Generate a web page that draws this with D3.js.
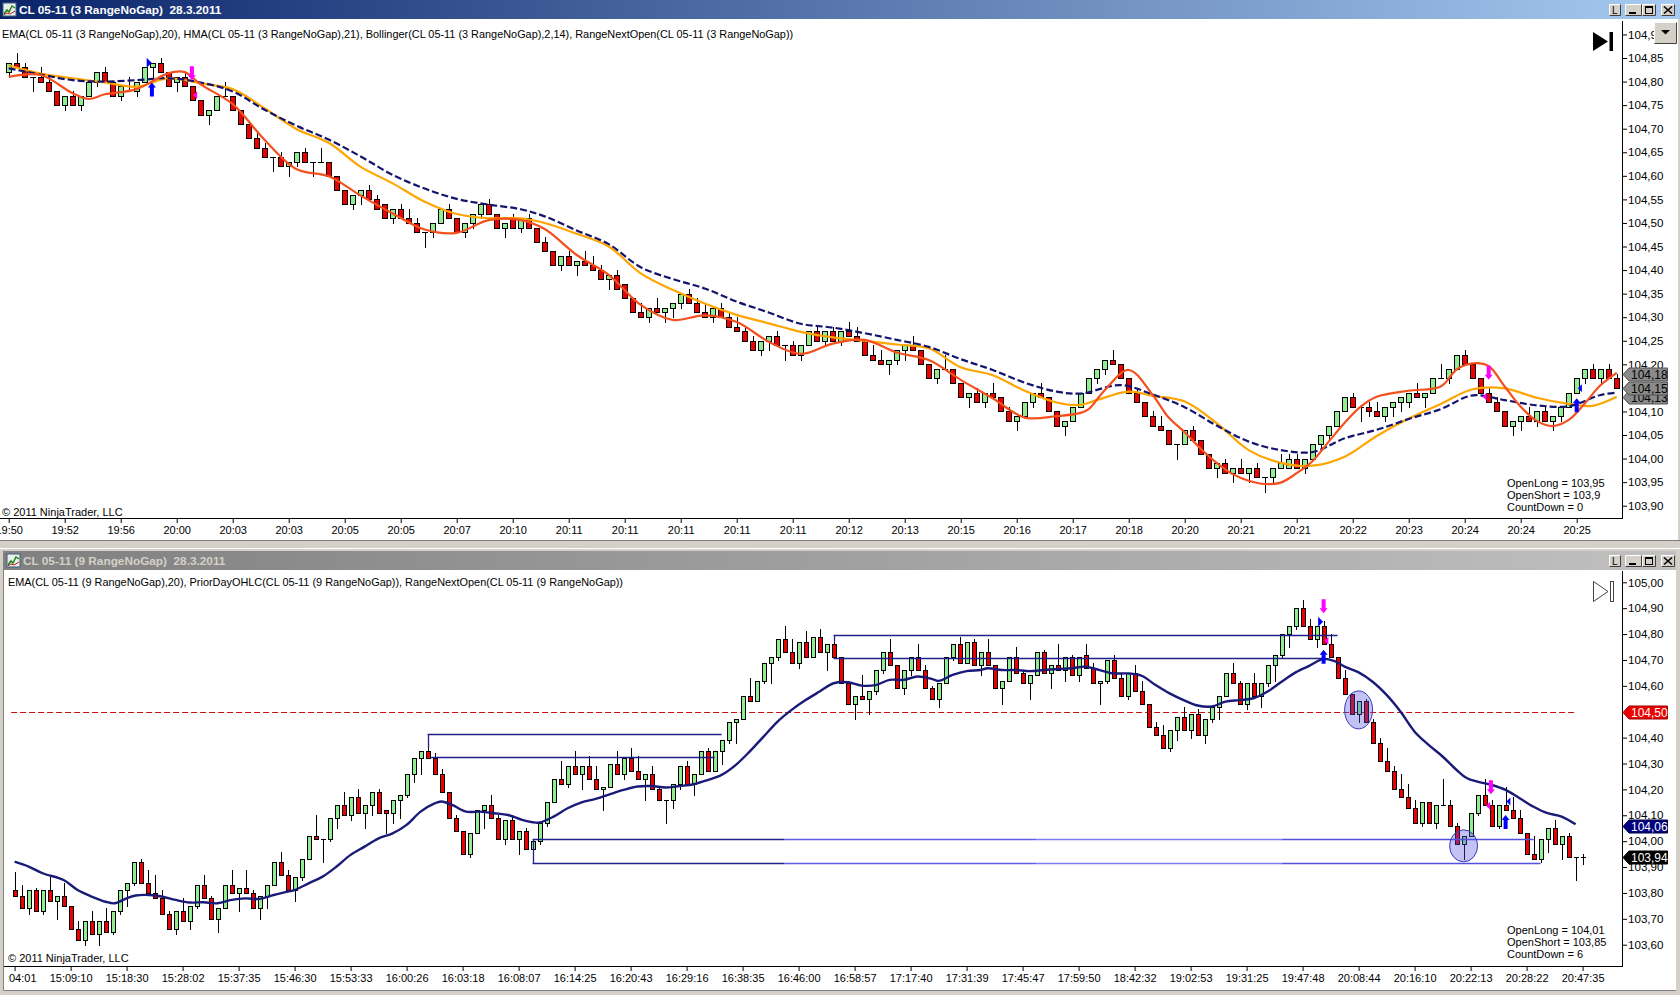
<!DOCTYPE html>
<html><head><meta charset="utf-8">
<script src="https://cdn.jsdelivr.net/npm/d3@7/dist/d3.min.js"></script>
<style>
html,body{margin:0;padding:0;background:#d4d0c8;overflow:hidden;}
svg{display:block;}
</style></head><body>
<svg id="chart" width="1680" height="995"></svg>
<script>
// ---------------- DATA: upper chart (3 RangeNoGap) ----------------
const topOpen = [104.82,104.84,104.83,104.81,104.81,104.80,104.78,104.75,104.77,104.75,
104.77,104.80,104.82,104.80,104.77,104.79,104.78,104.80,104.83,104.84,
104.82,104.80,104.81,104.79,104.76,104.73,104.74,104.77,104.77,104.74,
104.71,104.68,104.66,104.64,104.64,104.62,104.63,104.65,104.63,104.63,
104.63,104.60,104.57,104.54,104.56,104.57,104.55,104.54,104.51,104.53,
104.51,104.50,104.48,104.48,104.50,104.53,104.51,104.48,104.50,104.52,
104.54,104.52,104.49,104.51,104.49,104.51,104.49,104.46,104.44,104.41,
104.43,104.41,104.42,104.41,104.40,104.38,104.39,104.37,104.34,104.31,
104.30,104.32,104.31,104.32,104.33,104.35,104.33,104.31,104.30,104.32,
104.30,104.28,104.27,104.25,104.23,104.25,104.26,104.24,104.24,104.22,
104.24,104.27,104.25,104.27,104.25,104.27,104.26,104.25,104.22,104.21,
104.20,104.21,104.23,104.24,104.23,104.20,104.17,104.19,104.19,104.16,
104.13,104.14,104.12,104.14,104.13,104.10,104.08,104.09,104.12,104.14,
104.13,104.10,104.07,104.08,104.11,104.14,104.17,104.19,104.21,104.20,
104.17,104.14,104.12,104.09,104.07,104.06,104.03,104.03,104.06,104.04,
104.01,103.98,103.99,103.97,103.98,103.97,103.98,103.96,103.96,103.98,
103.98,104.00,103.98,104.00,104.03,104.05,104.07,104.10,104.13,104.11,
104.11,104.10,104.09,104.11,104.12,104.12,104.14,104.13,104.14,104.17,
104.17,104.19,104.22,104.20,104.17,104.14,104.12,104.10,104.07,104.08,
104.09,104.08,104.10,104.08,104.09,104.11,104.14,104.17,104.19,104.17,104.19,104.17];
const topClose = [104.84,104.83,104.81,104.81,104.80,104.78,104.75,104.77,104.75,104.77,
104.80,104.82,104.80,104.77,104.79,104.79,104.80,104.83,104.84,104.82,
104.79,104.81,104.79,104.76,104.73,104.74,104.77,104.77,104.74,104.71,
104.68,104.66,104.64,104.64,104.62,104.63,104.65,104.63,104.63,104.63,
104.60,104.57,104.54,104.56,104.57,104.55,104.53,104.51,104.53,104.51,
104.50,104.48,104.48,104.50,104.53,104.51,104.48,104.50,104.52,104.54,
104.52,104.49,104.50,104.49,104.51,104.49,104.46,104.44,104.41,104.43,
104.41,104.42,104.41,104.40,104.38,104.39,104.36,104.34,104.31,104.30,
104.32,104.31,104.32,104.33,104.35,104.33,104.31,104.30,104.32,104.30,
104.28,104.27,104.25,104.23,104.25,104.26,104.24,104.24,104.22,104.24,
104.27,104.25,104.27,104.25,104.27,104.26,104.25,104.22,104.21,104.20,
104.21,104.23,104.24,104.23,104.20,104.17,104.19,104.19,104.16,104.13,
104.14,104.12,104.14,104.13,104.10,104.08,104.09,104.12,104.14,104.13,
104.10,104.07,104.08,104.11,104.14,104.17,104.19,104.21,104.20,104.17,
104.14,104.12,104.09,104.07,104.06,104.03,104.03,104.06,104.04,104.01,
103.98,103.99,103.97,103.98,103.97,103.98,103.96,103.96,103.98,103.99,
104.00,103.98,104.00,104.03,104.05,104.07,104.10,104.13,104.11,104.11,
104.10,104.09,104.11,104.12,104.13,104.14,104.13,104.14,104.17,104.17,
104.19,104.22,104.20,104.17,104.14,104.12,104.10,104.07,104.08,104.09,
104.08,104.10,104.08,104.09,104.11,104.14,104.17,104.19,104.17,104.19,104.17,104.15];
const topHigh = [104.84,104.86,104.84,104.81,104.83,104.81,104.78,104.77,104.78,104.77,
104.80,104.82,104.83,104.80,104.79,104.81,104.80,104.83,104.84,104.85,
104.82,104.81,104.82,104.79,104.76,104.74,104.77,104.80,104.77,104.74,
104.71,104.69,104.67,104.64,104.65,104.63,104.65,104.66,104.63,104.66,
104.63,104.60,104.57,104.56,104.57,104.58,104.56,104.54,104.53,104.54,
104.53,104.51,104.48,104.50,104.53,104.54,104.51,104.50,104.52,104.54,
104.55,104.52,104.50,104.52,104.51,104.52,104.49,104.47,104.44,104.43,
104.44,104.42,104.44,104.43,104.41,104.39,104.40,104.37,104.34,104.33,
104.32,104.34,104.32,104.33,104.35,104.36,104.34,104.33,104.32,104.33,
104.31,104.30,104.28,104.26,104.25,104.26,104.27,104.24,104.25,104.24,
104.27,104.28,104.27,104.28,104.27,104.29,104.28,104.25,104.24,104.23,
104.21,104.23,104.24,104.26,104.23,104.20,104.19,104.22,104.19,104.16,
104.14,104.15,104.14,104.16,104.13,104.11,104.09,104.12,104.14,104.16,
104.13,104.10,104.08,104.11,104.14,104.17,104.19,104.21,104.23,104.20,
104.17,104.15,104.12,104.10,104.09,104.06,104.03,104.06,104.07,104.04,
104.01,103.99,104.00,103.98,104.00,103.98,103.99,103.96,103.98,104.01,
104.01,104.01,104.00,104.03,104.05,104.07,104.10,104.13,104.14,104.11,
104.12,104.12,104.11,104.12,104.13,104.14,104.16,104.14,104.17,104.20,
104.19,104.22,104.23,104.20,104.17,104.15,104.13,104.10,104.08,104.09,
104.11,104.10,104.11,104.09,104.11,104.14,104.17,104.19,104.20,104.19,104.20,104.18];
const topLow = [104.81,104.83,104.81,104.78,104.80,104.78,104.75,104.74,104.75,104.74,
104.77,104.79,104.80,104.77,104.76,104.78,104.77,104.80,104.81,104.82,
104.79,104.78,104.79,104.76,104.73,104.71,104.74,104.77,104.74,104.71,
104.68,104.66,104.64,104.61,104.62,104.60,104.62,104.63,104.60,104.63,
104.60,104.57,104.54,104.53,104.54,104.55,104.53,104.51,104.50,104.51,
104.50,104.48,104.45,104.47,104.50,104.51,104.48,104.47,104.49,104.51,
104.52,104.49,104.47,104.49,104.48,104.49,104.46,104.44,104.41,104.40,
104.41,104.39,104.41,104.40,104.38,104.36,104.36,104.34,104.31,104.30,
104.29,104.31,104.29,104.30,104.32,104.33,104.31,104.30,104.29,104.30,
104.28,104.27,104.25,104.23,104.22,104.23,104.24,104.21,104.22,104.21,
104.24,104.25,104.24,104.25,104.24,104.26,104.25,104.22,104.21,104.20,
104.18,104.20,104.21,104.23,104.20,104.17,104.16,104.19,104.16,104.13,
104.11,104.12,104.11,104.13,104.10,104.08,104.06,104.09,104.11,104.13,
104.10,104.07,104.05,104.08,104.11,104.14,104.16,104.18,104.20,104.17,
104.14,104.12,104.09,104.07,104.06,104.03,104.00,104.03,104.04,104.01,
103.98,103.96,103.97,103.95,103.97,103.95,103.96,103.93,103.95,103.98,
103.98,103.98,103.97,104.00,104.02,104.04,104.07,104.10,104.11,104.08,
104.09,104.09,104.08,104.09,104.10,104.11,104.13,104.11,104.14,104.17,
104.16,104.19,104.20,104.17,104.14,104.12,104.10,104.07,104.05,104.06,
104.08,104.07,104.08,104.06,104.08,104.11,104.14,104.16,104.17,104.16,104.17,104.15];

// indicator readings [bar index, value]
const topHma = [[1,104.810],[5,104.814],[9,104.775],[11,104.763],[13,104.773],[17,104.784],[21,104.818],[23,104.820],[25,104.794],[29,104.752],[33,104.676],[37,104.614],[41,104.599],[45,104.558],[49,104.520],[53,104.486],[57,104.479],[61,104.506],[65,104.506],[68,104.487],[72,104.432],[76,104.390],[80,104.326],[84,104.294],[88,104.304],[92,104.290],[96,104.248],[100,104.222],[104,104.244],[108,104.252],[112,104.225],[116,104.209],[120,104.167],[124,104.128],[128,104.087],[132,104.090],[135,104.097],[136,104.105],[138,104.145],[141,104.188],[144,104.135],[146,104.087],[148,104.056],[150,104.021],[152,103.991],[154,103.967],[156,103.953],[158,103.946],[160,103.949],[162,103.969],[164,103.995],[166,104.036],[168,104.076],[170,104.110],[172,104.131],[176,104.144],[180,104.153],[182,104.189],[184,104.202],[186,104.196],[188,104.153],[190,104.110],[192,104.080],[194,104.069],[196,104.082],[198,104.117],[200,104.156],[202,104.182]];
const topEma = [[1,104.834],[5,104.817],[9,104.807],[13,104.798],[17,104.789],[21,104.807],[25,104.796],[29,104.784],[33,104.743],[37,104.699],[41,104.670],[45,104.619],[49,104.584],[53,104.545],[57,104.519],[61,104.510],[65,104.510],[68,104.500],[72,104.477],[76,104.450],[80,104.393],[84,104.358],[88,104.329],[92,104.305],[96,104.287],[100,104.269],[104,104.257],[108,104.250],[112,104.242],[116,104.234],[120,104.194],[124,104.177],[128,104.144],[132,104.119],[135,104.114],[137,104.124],[141,104.142],[144,104.133],[148,104.121],[152,104.075],[156,104.018],[160,103.991],[164,103.985],[168,104.004],[172,104.048],[176,104.085],[180,104.116],[184,104.147],[188,104.149],[192,104.129],[196,104.116],[199,104.112],[202,104.131]];
const topBollinger = [[1,104.828],[5,104.815],[9,104.803],[13,104.800],[17,104.803],[21,104.807],[25,104.798],[29,104.779],[33,104.740],[37,104.706],[41,104.677],[45,104.641],[49,104.602],[53,104.573],[57,104.551],[61,104.539],[65,104.529],[68,104.514],[72,104.484],[76,104.455],[80,104.406],[84,104.381],[88,104.361],[92,104.333],[96,104.310],[100,104.286],[104,104.278],[108,104.266],[112,104.252],[116,104.237],[120,104.211],[124,104.188],[128,104.161],[132,104.142],[135,104.138],[140,104.156],[144,104.136],[148,104.109],[152,104.070],[156,104.036],[160,104.018],[164,104.014],[168,104.043],[172,104.061],[176,104.084],[180,104.105],[184,104.134],[188,104.124],[192,104.113],[196,104.111],[200,104.135],[202,104.140]];

const topXLabels = ["19:50","19:52","19:56","20:00","20:03","20:03","20:05","20:05","20:07","20:10","20:11","20:11","20:11","20:11","20:11","20:12","20:13","20:15","20:16","20:17","20:18","20:20","20:21","20:21","20:22","20:23","20:24","20:24","20:25"];
const topYTicks = [104.90,104.85,104.80,104.75,104.70,104.65,104.60,104.55,104.50,104.45,104.40,104.35,104.30,104.25,104.20,104.10,104.05,104.00,103.95,103.90];
const topSignals = [
  {i:18.5, p:104.840, kind:"longFlag"},
  {i:18.9, p:104.798, kind:"longArrow"},
  {i:23.9, p:104.803, kind:"shortArrow"},
  {i:24.3, p:104.771, kind:"shortMark"},
  {i:186, p:104.167, kind:"shortArrow"},
  {i:185.5, p:104.131, kind:"shortMark"},
  {i:197, p:104.128, kind:"longArrow"},
  {i:197.4, p:104.149, kind:"longMark"}
];
const topPriceTags = [{p:104.13, kind:"grey"},{p:104.18, kind:"grey"},{p:104.15, kind:"grey"}];
const topInfo = ["OpenLong = 103,95","OpenShort = 103,9","CountDown = 0"];

// ---------------- DATA: lower chart (9 RangeNoGap) ----------------
const botOpen = [103.81,103.79,103.74,103.81,103.73,103.81,103.77,103.79,103.75,103.66,
103.62,103.69,103.64,103.69,103.65,103.73,103.81,103.84,103.92,103.84,
103.80,103.78,103.72,103.66,103.73,103.69,103.75,103.83,103.78,103.70,
103.74,103.83,103.80,103.82,103.80,103.74,103.79,103.83,103.92,103.87,
103.81,103.86,103.93,104.02,104.01,104.01,104.09,104.14,104.10,104.17,
104.11,104.14,104.19,104.12,104.11,104.16,104.18,104.26,104.32,104.35,
104.32,104.26,104.19,104.09,104.04,103.95,104.03,104.12,104.14,104.09,
104.01,104.08,104.01,104.04,103.97,104.00,104.07,104.15,104.24,104.22,
104.29,104.26,104.29,104.24,104.20,104.21,104.30,104.26,104.32,104.27,
104.24,104.26,104.20,104.16,104.16,104.22,104.29,104.22,104.26,104.35,
104.27,104.35,104.39,104.46,104.47,104.56,104.54,104.62,104.69,104.71,
104.78,104.73,104.69,104.77,104.71,104.79,104.73,104.76,104.71,104.61,
104.53,104.56,104.55,104.58,104.66,104.73,104.68,104.59,104.66,104.71,
104.66,104.59,104.55,104.61,104.71,104.76,104.69,104.77,104.68,104.73,
104.68,104.59,104.62,104.71,104.65,104.61,104.64,104.73,104.65,104.68,
104.66,104.71,104.64,104.72,104.67,104.61,104.62,104.70,104.63,104.56,
104.65,104.58,104.53,104.44,104.41,104.36,104.43,104.48,104.43,104.49,
104.41,104.47,104.52,104.56,104.65,104.61,104.53,104.61,104.56,104.61,
104.68,104.72,104.80,104.83,104.90,104.83,104.78,104.83,104.76,104.71,
104.63,104.57,104.49,104.54,104.46,104.38,104.31,104.27,104.20,104.17,
104.13,104.07,104.15,104.07,104.14,104.14,104.06,103.99,104.02,104.11,
104.18,104.14,104.06,104.14,104.12,104.09,104.03,103.95,103.93,104.01,104.05,103.99,104.02,103.94,103.94];
const botClose = [103.79,103.74,103.81,103.73,103.81,103.77,103.79,103.75,103.66,103.62,
103.69,103.64,103.69,103.65,103.73,103.81,103.84,103.92,103.84,103.80,
103.78,103.72,103.66,103.73,103.69,103.75,103.83,103.78,103.70,103.74,
103.83,103.80,103.82,103.80,103.74,103.79,103.83,103.92,103.87,103.81,
103.86,103.93,104.02,104.01,104.01,104.09,104.14,104.10,104.17,104.11,
104.14,104.19,104.11,104.11,104.16,104.18,104.26,104.32,104.35,104.32,
104.26,104.19,104.09,104.04,103.95,104.03,104.12,104.14,104.09,104.01,
104.08,104.01,104.04,103.97,104.00,104.07,104.15,104.24,104.22,104.29,
104.26,104.29,104.24,104.20,104.21,104.30,104.26,104.32,104.27,104.24,
104.26,104.20,104.16,104.16,104.22,104.29,104.22,104.26,104.35,104.27,
104.35,104.39,104.46,104.47,104.56,104.54,104.62,104.69,104.71,104.78,
104.73,104.69,104.77,104.71,104.79,104.73,104.76,104.71,104.61,104.53,
104.56,104.55,104.58,104.66,104.73,104.68,104.59,104.66,104.71,104.66,
104.59,104.55,104.61,104.71,104.76,104.69,104.77,104.68,104.73,104.68,
104.59,104.62,104.71,104.65,104.61,104.64,104.73,104.65,104.68,104.66,
104.71,104.64,104.71,104.67,104.61,104.62,104.70,104.63,104.56,104.65,
104.58,104.53,104.44,104.41,104.36,104.43,104.48,104.43,104.49,104.41,
104.47,104.52,104.56,104.65,104.61,104.53,104.61,104.56,104.61,104.68,
104.72,104.80,104.83,104.90,104.83,104.78,104.83,104.76,104.71,104.63,
104.57,104.49,104.54,104.46,104.38,104.31,104.27,104.20,104.17,104.13,
104.07,104.15,104.07,104.14,104.14,104.06,103.99,104.02,104.11,104.18,
104.14,104.06,104.14,104.12,104.09,104.03,103.95,103.93,104.01,104.05,103.99,104.02,103.94,103.94,103.94];
const botHigh = [103.88,103.83,103.81,103.82,103.81,103.86,103.79,103.84,103.75,103.69,
103.69,103.73,103.69,103.74,103.73,103.81,103.84,103.92,103.93,103.89,
103.87,103.81,103.73,103.73,103.78,103.75,103.83,103.87,103.79,103.74,
103.83,103.89,103.82,103.89,103.81,103.79,103.83,103.92,103.96,103.89,
103.86,103.93,104.02,104.10,104.01,104.09,104.14,104.19,104.17,104.20,
104.14,104.19,104.20,104.12,104.16,104.18,104.26,104.32,104.35,104.36,
104.34,104.28,104.19,104.10,104.04,104.03,104.12,104.14,104.18,104.10,
104.08,104.10,104.04,104.05,104.00,104.07,104.15,104.24,104.31,104.29,
104.35,104.29,104.33,104.29,104.21,104.30,104.35,104.32,104.36,104.33,
104.26,104.29,104.21,104.16,104.22,104.29,104.31,104.26,104.35,104.36,
104.35,104.39,104.46,104.47,104.56,104.63,104.62,104.69,104.71,104.78,
104.83,104.78,104.77,104.81,104.79,104.82,104.76,104.77,104.71,104.62,
104.56,104.64,104.58,104.66,104.73,104.78,104.68,104.66,104.71,104.76,
104.68,104.60,104.61,104.71,104.76,104.79,104.77,104.78,104.73,104.78,
104.68,104.62,104.71,104.75,104.66,104.64,104.73,104.74,104.68,104.76,
104.71,104.72,104.71,104.76,104.69,104.62,104.70,104.72,104.65,104.65,
104.68,104.62,104.53,104.46,104.45,104.43,104.48,104.52,104.49,104.51,
104.47,104.52,104.56,104.65,104.69,104.62,104.61,104.65,104.61,104.68,
104.72,104.80,104.83,104.90,104.93,104.86,104.83,104.85,104.80,104.71,
104.66,104.57,104.54,104.55,104.47,104.40,104.36,104.29,104.26,104.22,
104.16,104.15,104.15,104.14,104.24,104.16,104.07,104.02,104.11,104.18,
104.24,104.16,104.14,104.21,104.17,104.12,104.03,104.02,104.01,104.05,104.08,104.02,104.03,103.94,103.95];
const botLow = [103.79,103.74,103.72,103.73,103.72,103.77,103.70,103.75,103.66,103.62,
103.60,103.64,103.60,103.65,103.64,103.72,103.75,103.83,103.84,103.80,
103.78,103.72,103.66,103.64,103.69,103.66,103.74,103.78,103.70,103.65,
103.74,103.80,103.73,103.80,103.74,103.70,103.74,103.83,103.87,103.81,
103.77,103.85,103.93,104.01,103.92,104.00,104.05,104.10,104.08,104.11,
104.05,104.10,104.11,104.03,104.07,104.09,104.17,104.23,104.26,104.32,
104.26,104.19,104.09,104.04,103.95,103.94,104.03,104.05,104.09,104.01,
103.99,104.01,103.95,103.97,103.92,103.99,104.06,104.15,104.22,104.21,
104.26,104.20,104.24,104.20,104.12,104.21,104.26,104.24,104.27,104.24,
104.16,104.20,104.16,104.07,104.13,104.20,104.22,104.18,104.26,104.27,
104.27,104.30,104.38,104.38,104.47,104.54,104.54,104.61,104.61,104.70,
104.73,104.69,104.67,104.71,104.71,104.73,104.66,104.71,104.61,104.53,
104.47,104.55,104.49,104.57,104.65,104.68,104.59,104.57,104.64,104.66,
104.59,104.55,104.52,104.61,104.70,104.69,104.69,104.68,104.64,104.68,
104.59,104.53,104.62,104.65,104.61,104.55,104.64,104.65,104.59,104.66,
104.62,104.64,104.62,104.67,104.61,104.53,104.61,104.63,104.56,104.55,
104.58,104.53,104.44,104.41,104.36,104.35,104.39,104.43,104.40,104.41,
104.38,104.46,104.47,104.56,104.61,104.53,104.51,104.56,104.52,104.60,
104.62,104.71,104.75,104.82,104.83,104.78,104.75,104.76,104.71,104.63,
104.57,104.49,104.46,104.46,104.38,104.31,104.27,104.20,104.17,104.13,
104.07,104.06,104.07,104.05,104.14,104.06,103.99,103.93,104.02,104.10,
104.14,104.06,104.05,104.12,104.09,104.03,103.95,103.93,103.92,103.96,103.99,103.93,103.94,103.85,103.91];

const botEma = [[1,103.921],[3,103.902],[5,103.876],[8,103.850],[10,103.811],[12,103.786],[14,103.766],[15.3,103.760],[17,103.779],[18.3,103.790],[20.3,103.792],[22,103.786],[24,103.773],[26,103.763],[28,103.764],[30,103.760],[32,103.773],[34,103.779],[36,103.777],[38,103.792],[40,103.805],[41,103.811],[43,103.837],[45,103.863],[47,103.902],[49,103.947],[51,103.979],[53,104.011],[55,104.030],[57,104.063],[59,104.114],[61,104.146],[62,104.153],[63.5,104.140],[65.5,104.114],[67.5,104.114],[69.5,104.108],[71.5,104.101],[73.5,104.082],[75,104.073],[76,104.072],[78,104.095],[80,104.127],[82,104.150],[84,104.163],[86,104.181],[88,104.198],[90,104.211],[92,104.213],[94,104.207],[96,104.213],[98,104.220],[100,104.236],[102,104.256],[104,104.294],[106,104.346],[108,104.404],[110,104.462],[112,104.507],[114,104.545],[116,104.578],[118,104.610],[120,104.614],[122,104.601],[124,104.603],[126,104.623],[128,104.623],[130,104.636],[132,104.627],[133,104.619],[135,104.642],[137,104.657],[139,104.661],[140,104.668],[142,104.661],[144,104.661],[146,104.657],[148,104.661],[150,104.665],[152,104.668],[154,104.674],[156,104.661],[158,104.648],[160,104.648],[162,104.639],[164,104.603],[166,104.571],[168,104.545],[170,104.524],[172,104.520],[174,104.539],[176,104.545],[178,104.552],[180,104.578],[182,104.616],[184,104.652],[186,104.678],[188,104.704],[189.5,104.696],[191,104.674],[193,104.652],[195,104.616],[197,104.565],[199,104.500],[201,104.423],[203,104.372],[205,104.327],[207,104.275],[208.5,104.243],[210,104.230],[212,104.217],[214,104.198],[216,104.166],[218,104.133],[220,104.108],[222,104.095],[224,104.065]];

// prior-day / level lines: from bar, to bar, price, optional stub end price
const botLevels = [
  {from:60, to:102, p:104.413, stub:104.36},
  {from:60.5, to:101, p:104.326},
  {from:75, to:218, p:104.007, stub:103.915},
  {from:75, to:219, p:103.915},
  {from:118, to:190, p:104.797, stub:104.77},
  {from:118, to:188, p:104.706}
];
const botDashLevel = {from:0.5, to:224.2, p:104.50};
const botHighlights = [{i:193, p:104.507},{i:208, p:103.982}];
const botSignals = [
  {i:188, p:104.880, kind:"shortArrow"},
  {i:187.5, p:104.848, kind:"longFlag"},
  {i:188.4, p:104.774, kind:"shortMark"},
  {i:188, p:104.739, kind:"longArrow"},
  {i:211.9, p:104.181, kind:"shortArrow"},
  {i:211.5, p:104.137, kind:"shortMark"},
  {i:214, p:104.101, kind:"longArrow"},
  {i:214.4, p:104.153, kind:"longMark"}
];
const botPriceTags = [{p:104.50, kind:"red"},{p:104.06, kind:"navy"},{p:103.94, kind:"black"}];
const botXLabels = ["15:04:01","15:09:10","15:18:30","15:28:02","15:37:35","15:46:30","15:53:33","16:00:26","16:03:18","16:08:07","16:14:25","16:20:43","16:29:16","16:38:35","16:46:00","16:58:57","17:17:40","17:31:39","17:45:47","17:59:50","18:42:32","19:02:53","19:31:25","19:47:48","20:08:44","20:16:10","20:22:13","20:28:22","20:47:35"];
const botYTicks = [105.00,104.90,104.80,104.70,104.60,104.40,104.30,104.20,104.10,104.00,103.90,103.80,103.70,103.60];
const botInfo = ["OpenLong = 104,01","OpenShort = 103,85","CountDown = 6"];

const topTitle = "CL 05-11 (3 RangeNoGap)  28.3.2011";
const botTitle = "CL 05-11 (9 RangeNoGap)  28.3.2011";
const topLegend = "EMA(CL 05-11 (3 RangeNoGap),20), HMA(CL 05-11 (3 RangeNoGap),21), Bollinger(CL 05-11 (3 RangeNoGap),2,14), RangeNextOpen(CL 05-11 (3 RangeNoGap))";
const botLegend = "EMA(CL 05-11 (9 RangeNoGap),20), PriorDayOHLC(CL 05-11 (9 RangeNoGap)), RangeNextOpen(CL 05-11 (9 RangeNoGap))";
const copyright = "\u00A9 2011 NinjaTrader, LLC";

// ---------------- RENDER ----------------
const FONT = "'Liberation Sans', Arial, Helvetica, sans-serif";
const UP = "#90ee90", DOWN = "#ee0000";
const fmt = v => v.toFixed(2).replace(".", ",");
const svg = d3.select("#chart");
const defs = svg.append("defs");
function grad(id, a, b) {
  const g = defs.append("linearGradient").attr("id", id).attr("x1", 0).attr("x2", 1).attr("y1", 0).attr("y2", 0);
  g.append("stop").attr("offset", 0).attr("stop-color", a);
  g.append("stop").attr("offset", 1).attr("stop-color", b);
}
grad("gAct", "#0a246a", "#a6caf0");
grad("gInact", "#808080", "#c0c0c0");
defs.append("clipPath").attr("id", "cTop").append("rect").attr("x", 0).attr("y", 21).attr("width", 1622).attr("height", 497);
defs.append("clipPath").attr("id", "cBot").append("rect").attr("x", 5).attr("y", 571).attr("width", 1617).attr("height", 395);
defs.append("clipPath").attr("id", "cBotAx").append("rect").attr("x", 8).attr("y", 960).attr("width", 1668).attr("height", 30);

svg.append("rect").attr("width", 1680).attr("height", 995).attr("fill", "#d4d0c8");

// window chrome
function titleBar(y0, x0, x1, fill, title, txtColor) {
  svg.append("rect").attr("x", x0).attr("y", y0).attr("width", x1 - x0).attr("height", 19).attr("fill", fill);
  const ic = svg.append("g").attr("transform", `translate(${x0 + 3},${y0 + 3})`);
  ic.append("rect").attr("width", 13).attr("height", 13).attr("fill", "#e8f0e8").attr("stroke", "#406080");
  ic.append("path").attr("d", "M1,11 L4,7 L6,9 L9,3 L12,5").attr("stroke", "#208020").attr("fill", "none").attr("stroke-width", 1.5);
  ic.append("path").attr("d", "M1,12 L4,10 L7,11 L12,8").attr("stroke", "#c02020").attr("fill", "none");
  svg.append("text").attr("x", x0 + 19).attr("y", y0 + 14).attr("fill", txtColor)
    .attr("font-family", FONT).attr("font-size", 11.8).attr("font-weight", "bold")
    .style("white-space", "pre").text(title);
  const by = y0 + 4;
  const btn = (x, w) => {
    svg.append("rect").attr("x", x).attr("y", by).attr("width", w).attr("height", 12).attr("fill", "#d4d0c8");
    svg.append("path").attr("d", `M${x + 0.5},${by + 11.5}V${by + 0.5}H${x + w - 0.5}`).attr("stroke", "#fff").attr("fill", "none");
    svg.append("path").attr("d", `M${x + 0.5},${by + 11.5}H${x + w - 0.5}V${by + 0.5}`).attr("stroke", "#404040").attr("fill", "none");
  };
  btn(1609, 12); btn(1625, 17); btn(1642, 14); btn(1661, 14);
  svg.append("text").attr("x", 1612).attr("y", by + 10).attr("font-family", FONT).attr("font-size", 10).attr("fill", "#000").text("L");
  svg.append("rect").attr("x", 1629).attr("y", by + 8).attr("width", 7).attr("height", 2).attr("fill", "#000");
  svg.append("rect").attr("x", 1645.5).attr("y", by + 2.5).attr("width", 7).attr("height", 7).attr("fill", "none").attr("stroke", "#000");
  svg.append("rect").attr("x", 1645).attr("y", by + 2).attr("width", 8).attr("height", 2).attr("fill", "#000");
  svg.append("path").attr("d", `M${1664},${by + 2.5}L${1672},${by + 9.5}M${1672},${by + 2.5}L${1664},${by + 9.5}`).attr("stroke", "#000").attr("stroke-width", 1.6);
}
svg.append("rect").attr("x", 0).attr("y", 19).attr("width", 1678).attr("height", 521).attr("fill", "#fff");
svg.append("line").attr("x1", 0).attr("x2", 1680).attr("y1", 540.5).attr("y2", 540.5).attr("stroke", "#808080");
titleBar(0, 0, 1680, "url(#gAct)", topTitle, "#fff");
svg.append("line").attr("x1", 0).attr("x2", 1680).attr("y1", 548.5).attr("y2", 548.5).attr("stroke", "#fff");
svg.append("rect").attr("x", 4).attr("y", 570).attr("width", 1672).attr("height", 420).attr("fill", "#fff");
titleBar(551, 4, 1676, "url(#gInact)", botTitle, "#d4d0c8");
svg.append("line").attr("x1", 3.5).attr("x2", 3.5).attr("y1", 551).attr("y2", 990).attr("stroke", "#808080");
svg.append("line").attr("x1", 3.5).attr("x2", 1676).attr("y1", 990.5).attr("y2", 990.5).attr("stroke", "#808080");

// ---- panel helpers ----
function drawCandles(g, x, y, O, Hi, Lo, C, a, w) {
  const idx = d3.range(O.length);
  const cx = i => Math.round(x(i + 1));
  const gw = g.append("g").attr("shape-rendering", "crispEdges");
  gw.selectAll("line").data(idx).join("line")
    .attr("x1", i => cx(i) + 0.5).attr("x2", i => cx(i) + 0.5)
    .attr("y1", i => Math.round(y(Hi[i]))).attr("y2", i => Math.round(y(Lo[i])) + 1)
    .attr("stroke", "#000");
  const gb = g.append("g").attr("shape-rendering", "crispEdges");
  gb.selectAll("rect").data(idx.filter(i => O[i] !== C[i])).join("rect")
    .attr("x", i => cx(i) - a + 0.5)
    .attr("y", i => Math.round(y(Math.max(O[i], C[i]))) + 0.5)
    .attr("width", w)
    .attr("height", i => Math.max(1, Math.round(y(Math.min(O[i], C[i]))) - Math.round(y(Math.max(O[i], C[i])))))
    .attr("fill", i => C[i] > O[i] ? UP : DOWN)
    .attr("stroke", "#000");
  gb.selectAll("line").data(idx.filter(i => O[i] === C[i])).join("line")
    .attr("x1", i => cx(i) - a).attr("x2", i => cx(i) - a + w + 1)
    .attr("y1", i => Math.round(y(O[i])) + 0.5).attr("y2", i => Math.round(y(O[i])) + 0.5)
    .attr("stroke", "#000");
}
function drawSeries(g, x, y, data, color, width, dash) {
  const ln = d3.line().x(d => x(d[0])).y(d => y(d[1])).curve(d3.curveCatmullRom.alpha(0.5));
  const p = g.append("path").attr("d", ln(data)).attr("fill", "none").attr("stroke", color)
    .attr("stroke-width", width).attr("stroke-linejoin", "round").attr("stroke-linecap", "butt");
  if (dash) p.attr("stroke-dasharray", dash);
}
const SIG = {
  longArrow: {color: "#0000ff"}, shortArrow: {color: "#ff00ff"},
  longMark: {color: "#0000ff"}, shortMark: {color: "#ff00ff"}, longFlag: {color: "#0000ff"}
};
function drawSignals(g, x, y, sigs) {
  sigs.forEach(s => {
    const px = x(s.i), py = y(s.p), c = SIG[s.kind].color;
    let d;
    if (s.kind === "longArrow") d = `M${px},${py} l4,5 l-2,0 l0,9 l-4,0 l0,-9 l-2,0 Z`;
    else if (s.kind === "shortArrow") d = `M${px},${py} l4,-5 l-2,0 l0,-9 l-4,0 l0,9 l-2,0 Z`;
    else if (s.kind === "longFlag") d = `M${px - 2},${py - 5} l5,5 l-5,5 Z`;
    else d = `M${px + 2},${py - 4} l-4,4 l4,4 Z`;
    g.append("path").attr("d", d).attr("fill", c);
  });
}
const TAG = {grey: ["#8a8a8a", "#000", "#555"], red: ["#ee0000", "#fff", "#900"], navy: ["#000080", "#fff", "#000040"], black: ["#000", "#fff", "#000"]};
function drawTags(g, y, tags) {
  tags.forEach(t => {
    const yy = Math.round(y(t.p)) + 0.5, st = TAG[t.kind];
    g.append("path").attr("d", `M1623,${yy} L1629,${yy - 6.5} L1667.5,${yy - 6.5} L1667.5,${yy + 6.5} L1629,${yy + 6.5} Z`)
      .attr("fill", st[0]).attr("stroke", st[2]);
    g.append("text").attr("x", 1631).attr("y", yy + 4.5).attr("font-family", FONT).attr("font-size", 12)
      .attr("fill", st[1]).text(fmt(t.p));
  });
}
function axes(xs, ys, xTicks, xLabels, yTicks, axisY, yTop, xLeft, clipId) {
  const outer = svg.append("g");
  if (clipId) outer.attr("clip-path", `url(#${clipId})`);
  const gx = outer.append("g").attr("transform", `translate(0,${axisY})`);
  gx.call(d3.axisBottom(xs).tickValues(xTicks).tickFormat((d, i) => xLabels[i]).tickSize(5).tickSizeOuter(0).tickPadding(3));
  gx.select(".domain").remove();
  gx.attr("font-family", FONT).attr("font-size", 11);
  gx.selectAll("line").attr("stroke", "#000");
  gx.selectAll("text").attr("fill", "#000");
  svg.append("line").attr("x1", xLeft).attr("x2", 1622.5).attr("y1", axisY + 0.5).attr("y2", axisY + 0.5).attr("stroke", "#000");
  const gy = svg.append("g").attr("transform", "translate(1622,0)");
  gy.call(d3.axisRight(ys).tickValues(yTicks).tickFormat(fmt).tickSize(5).tickSizeOuter(0).tickPadding(1));
  gy.select(".domain").remove();
  gy.attr("font-family", FONT).attr("font-size", 11.6);
  gy.selectAll("line").attr("stroke", "#000");
  gy.selectAll("text").attr("fill", "#000");
  svg.append("line").attr("x1", 1622.5).attr("x2", 1622.5).attr("y1", yTop).attr("y2", axisY + 1).attr("stroke", "#000");
}

// ================= TOP PANEL =================
const xT = d3.scaleLinear().domain([1, 202]).range([8.7, 1616.7]);
const yT = d3.scaleLinear().domain([103.90, 104.85]).range([505.7, 58]);
svg.append("text").attr("x", 2).attr("y", 37.5).attr("font-family", FONT).attr("font-size", 10.9).attr("fill", "#000").text(topLegend);
const gT = svg.append("g").attr("clip-path", "url(#cTop)");
drawCandles(gT, xT, yT, topOpen, topHigh, topLow, topClose, 3, 5);
drawSeries(gT, xT, yT, topEma, "#ffa500", 2.2);
drawSeries(gT, xT, yT, topBollinger, "#14146e", 2.2, "7,3");
drawSeries(gT, xT, yT, topHma, "#f4501e", 2.2);
drawSignals(gT, xT, yT, topSignals);
svg.append("text").attr("x", 2).attr("y", 516).attr("font-family", FONT).attr("font-size", 11).attr("fill", "#000").text(copyright);
topInfo.forEach((t, k) => svg.append("text").attr("x", 1507).attr("y", 486.5 + 12 * k).attr("font-family", FONT).attr("font-size", 11).attr("fill", "#000").text(t));
axes(xT, yT, topXLabels.map((d, k) => 1 + 7 * k), topXLabels, topYTicks, 518, 21, 0, null);
drawTags(svg, yT, topPriceTags);
svg.append("path").attr("d", "M1593,32 L1608,41.5 L1593,51 Z").attr("fill", "#000");
svg.append("rect").attr("x", 1609.5).attr("y", 32).attr("width", 3.5).attr("height", 19).attr("fill", "#000");
svg.append("rect").attr("x", 1654).attr("y", 22).attr("width", 23).attr("height", 22).attr("fill", "#d4d0c8");
svg.append("path").attr("d", "M1654.5,43.5V22.5H1676.5").attr("stroke", "#fff").attr("fill", "none");
svg.append("path").attr("d", "M1654.5,43.5H1676.5V22.5").attr("stroke", "#404040").attr("fill", "none");
svg.append("path").attr("d", "M1661,30 L1670,30 L1665.5,34.5 Z").attr("fill", "#000");

// ================= BOTTOM PANEL =================
const xB = d3.scaleLinear().domain([1, 225]).range([14.6, 1582.6]);
const yB = d3.scaleLinear().domain([103.60, 105.00]).range([944.7, 582.3]);
svg.append("text").attr("x", 8).attr("y", 585.5).attr("font-family", FONT).attr("font-size", 10.9).attr("fill", "#000").text(botLegend);
const gB = svg.append("g").attr("clip-path", "url(#cBot)");
gB.append("line").attr("x1", xB(botDashLevel.from)).attr("x2", xB(botDashLevel.to))
  .attr("y1", Math.round(yB(botDashLevel.p)) + 0.5).attr("y2", Math.round(yB(botDashLevel.p)) + 0.5)
  .attr("stroke", "#cc1010").attr("stroke-dasharray", "6,3");
drawCandles(gB, xB, yB, botOpen, botHigh, botLow, botClose, 2, 4);
drawSeries(gB, xB, yB, botEma, "#1a1a78", 2.4);
const LEVEL_SEG = [[0, 111, "#20208a"], [111, 147, "#5e5ee6"], [147, 182, "#7c7cf2"], [182, 300, "#5252dc"]];
botLevels.forEach(l => {
  const yy = Math.round(yB(l.p)) + 0.5;
  const long = l.to - l.from > 120;
  if (long) {
    LEVEL_SEG.forEach(s => {
      const a = Math.max(l.from, s[0]), b = Math.min(l.to, s[1]);
      if (b > a) gB.append("line").attr("x1", xB(a)).attr("x2", xB(b)).attr("y1", yy).attr("y2", yy).attr("stroke", s[2]).attr("stroke-width", 1.3);
    });
  } else {
    gB.append("line").attr("x1", xB(l.from)).attr("x2", xB(l.to)).attr("y1", yy).attr("y2", yy).attr("stroke", "#20208a").attr("stroke-width", 1.3);
  }
  if (l.stub !== undefined) {
    const xx = Math.round(xB(l.from)) + 0.5;
    gB.append("line").attr("x1", xx).attr("x2", xx).attr("y1", yy).attr("y2", yB(l.stub)).attr("stroke", "#20208a").attr("stroke-width", 1.3);
  }
});
botHighlights.forEach(h => {
  gB.append("ellipse").attr("cx", xB(h.i)).attr("cy", yB(h.p)).attr("rx", 14).attr("ry", h.p > 104.3 ? 19 : 16)
    .attr("fill", "rgba(80,80,225,0.35)").attr("stroke", "#3a3ab8").attr("stroke-width", 1);
});
drawSignals(gB, xB, yB, botSignals);
svg.append("text").attr("x", 8).attr("y", 961.5).attr("font-family", FONT).attr("font-size", 11).attr("fill", "#000").text(copyright);
botInfo.forEach((t, k) => svg.append("text").attr("x", 1507).attr("y", 934 + 12 * k).attr("font-family", FONT).attr("font-size", 11).attr("fill", "#000").text(t));
axes(xB, yB, botXLabels.map((d, k) => 1 + 8 * k), botXLabels, botYTicks, 966, 571, 4, "cBotAx");
drawTags(svg, yB, botPriceTags);
svg.append("path").attr("d", "M1593.5,581.5 L1608,591.5 L1593.5,601.5 Z").attr("fill", "#fff").attr("stroke", "#444");
svg.append("rect").attr("x", 1610.5).attr("y", 581.5).attr("width", 3).attr("height", 20).attr("fill", "#fff").attr("stroke", "#444");
</script>
</body></html>
